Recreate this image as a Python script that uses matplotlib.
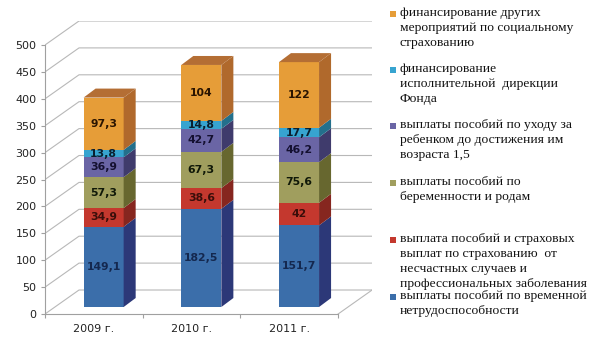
import numpy as np
import matplotlib
matplotlib.use('Agg')
import matplotlib.pyplot as plt
from matplotlib.patches import Polygon, Rectangle

# данные (млрд руб.)
years = ['2009 г.', '2010 г.', '2011 г.']
temp_disab = [149.1, 182.5, 151.7]
accidents = [34.9, 38.6, 42]
maternity = [57.3, 67.3, 75.6]
childcare = [36.9, 42.7, 46.2]
fund_admin = [13.8, 14.8, 17.7]
other = [97.3, 104, 122]

series_names = [
    'выплаты пособий по временной\nнетрудоспособности',
    'выплата пособий и страховых\nвыплат по страхованию  от\nнесчастных случаев и\nпрофессиональных заболевания',
    'выплаты пособий по\nбеременности и родам',
    'выплаты пособий по уходу за\nребенком до достижения им\nвозраста 1,5',
    'финансирование\nисполнительной  дирекции\nФонда',
    'финансирование других\nмероприятий по социальному\nстрахованию',
]
series = [temp_disab, accidents, maternity, childcare, fund_admin, other]

# цвета: лицевая грань, боковая грань, верх, подписи
front_colors = ['#3b6eaa', '#c4382e', '#a09e5e', '#6a65a5', '#37a4d0', '#e69d38']
side_colors = ['#2c3878', '#86261f', '#67672f', '#3f3b6c', '#23708c', '#b0692c']
top_colors = ['#2f4f8a', '#9a2e26', '#7a7a3c', '#4d4880', '#2a85a6', '#b46e34']
label_colors = ['#14284f', '#3a0e0a', '#101808', '#141030', '#0a2030', '#2a1400']

fig = plt.figure(figsize=(6, 3.64), dpi=100)
W, H = 600, 364
ax = fig.add_axes([45 / W, (H - 314) / H, 327 / W, 293 / H])
ax.set_xlim(-0.5, -0.5 + 327 / 97.7)
ax.set_ylim(0, 293 / 0.538)

# глубина "3D"
dx, dy = 0.348, 44.6          # задняя стенка
bx, by = 0.10, 13.0           # смещение столбиков
sdx, sdy = 0.123, 16.7        # глубина столбика
bw = 0.41

grid_c = '#b8b8b8'
ticks = np.arange(0, 501, 50)
for v in ticks:
    ax.plot([-0.5, -0.5 + dx, 2.5 + dx], [v, v + dy, v + dy], color=grid_c, lw=0.8, zorder=1)
# пол
ax.plot([2.5, 2.5 + dx], [0, dy], color=grid_c, lw=0.8, zorder=1)

# оси
for s in ['top', 'right']:
    ax.spines[s].set_visible(False)
ax.spines['left'].set_bounds(0, 500)
ax.spines['bottom'].set_bounds(-0.5, 2.5)
for s in ['left', 'bottom']:
    ax.spines[s].set_color('#a0a0a0')
    ax.spines[s].set_linewidth(0.8)
ax.set_yticks(ticks)
ax.tick_params(axis='y', length=3, color='#a0a0a0', labelsize=8, pad=3, labelcolor='#222222')
ax.set_xticks([-0.5, 0.5, 1.5, 2.5])
ax.set_xticklabels([])
ax.tick_params(axis='x', length=3, color='#a0a0a0')
ax.set_xticks(range(len(years)), minor=True)
ax.set_xticklabels(years, minor=True)
ax.tick_params(axis='x', which='minor', length=0, labelsize=8, pad=7, labelcolor='#222222')

x = np.arange(len(years)) + bx
bottom = np.zeros(len(years)) + by
for k, vals in enumerate(series):
    vals = np.array(vals, dtype=float)
    ax.bar(x, vals, bw, bottom=bottom, color=front_colors[k], zorder=3)
    for i in range(len(years)):
        xr = x[i] + bw / 2
        y0, y1 = bottom[i], bottom[i] + vals[i]
        ax.add_patch(Polygon([(xr, y0), (xr + sdx, y0 + sdy), (xr + sdx, y1 + sdy), (xr, y1)],
                             closed=True, facecolor=side_colors[k], edgecolor='none', zorder=3))
        if k == len(series) - 1:
            xl = x[i] - bw / 2
            ax.add_patch(Polygon([(xl, y1), (xr, y1), (xr + sdx, y1 + sdy), (xl + sdx, y1 + sdy)],
                                 closed=True, facecolor=top_colors[k], edgecolor='none', zorder=3))
        lab = f'{vals[i]:g}'.replace('.', ',')
        ax.text(x[i], (y0 + y1) / 2, lab, ha='center', va='center', fontsize=7.8,
                fontweight='bold', color=label_colors[k], zorder=4)
    bottom = bottom + vals

# легенда
legend_y = [297, 240, 183, 126, 70, 14]
for k in range(len(series)):
    yc = legend_y[k]
    fig.patches.append(Rectangle((390 / W, (H - yc - 3) / H), 6 / W, 6 / H,
                                 transform=fig.transFigure, facecolor=front_colors[k],
                                 edgecolor='none'))
    fig.text(400 / W, (H - yc + 7) / H, series_names[k], ha='left', va='top',
             fontsize=9.7, family='Liberation Serif', linespacing=1.32, color='#111111')

fig.savefig('out.png', dpi=100)
